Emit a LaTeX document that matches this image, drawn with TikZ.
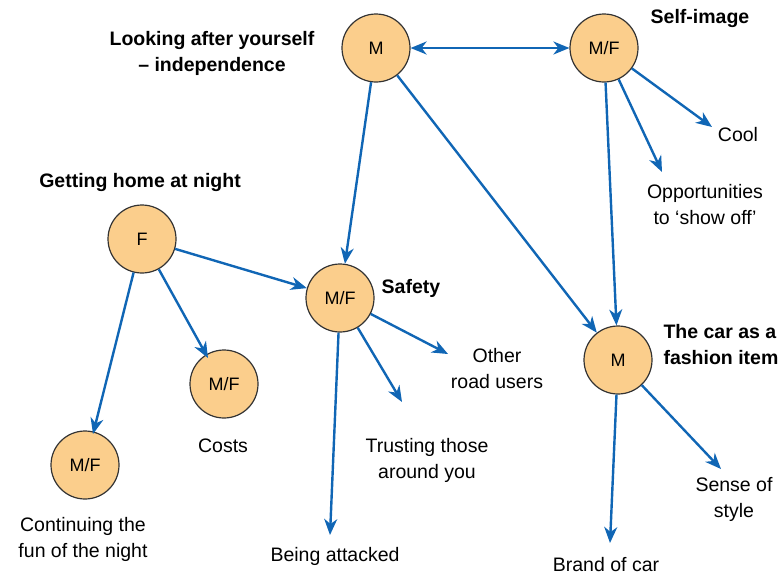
\documentclass[tikz,border=0pt]{standalone}
\usepackage{fontspec}
\setmainfont{Liberation Sans}
\usetikzlibrary{arrows.meta}
\definecolor{nodefill}{HTML}{FBCE8C}
\definecolor{linkblue}{HTML}{1066B5}

\begin{document}
\begin{tikzpicture}[x=1pt, y=-1pt, >={Stealth[length=16pt, width=13pt, inset=5pt]},
  every node/.style={font=\fontsize{19.5}{26}\selectfont},
  person/.style={circle, draw=black!80, line width=1.2pt, fill=nodefill, minimum size=68pt, inner sep=0pt, font=\fontsize{18}{22}\selectfont},
  topic/.style={font=\fontsize{19.5}{26}\selectfont\bfseries, align=center},
  item/.style={align=center},
  link/.style={->, draw=linkblue, line width=2.4pt}]
  \useasboundingbox (0,0) rectangle (783,576);
  \node[person] (lookM) at (376,48) {M};
  \node[person] (selfMF) at (604,48) {M/F};
  \node[person] (homeF) at (142,239) {F};
  \node[person] (safeMF) at (340,298) {M/F};
  \node[person] (fashM) at (618,360) {M};
  \node[person] (costMF) at (224,384) {M/F};
  \node[person] (funMF) at (85,465) {M/F};
  \node[topic] (lookT) at (212,53) {Looking after yourself\\– independence};
  \node[topic] (selfT) at (700,18) {Self-image};
  \node[topic] (homeT) at (140,182) {Getting home at night};
  \node[topic] (safeT) at (411,288) {Safety};
  \node[topic, align=left, anchor=west] (fashT) at (660,345) {The car as a\\fashion item};
  \node[item] (cool) at (738,135) {Cool};
  \node[item] (show) at (705,205) {Opportunities\\to ‘show off’};
  \node[item] (road) at (497,369) {Other\\road users};
  \node[item] (trust) at (427,460) {Trusting those\\around you};
  \node[item] (attack) at (335,556) {Being attacked};
  \node[item] (brand) at (606,565) {Brand of car};
  \node[item] (style) at (734,499) {Sense of\\style};
  \node[item] (costs) at (223,446) {Costs};
  \node[item] (fun) at (83,539) {Continuing the\\fun of the night};
  \coordinate (toCool) at (712,127);
  \coordinate (toShow) at (662,172);
  \coordinate (toRoad) at (448,354);
  \coordinate (toTrust) at (402,402);
  \coordinate (toAttack) at (330,535);
  \coordinate (toBrand) at (610,543);
  \coordinate (toStyle) at (721,469);
  \coordinate (toCosts) at (208,358);
  \coordinate (toFun) at (93,434);
  \draw[link, <->] (lookM) -- (selfMF);
  \draw[link] (lookM) -- (safeMF);
  \draw[link] (lookM) -- (fashM);
  \draw[link] (selfMF) -- (fashM);
  \draw[link] (selfMF) -- (toCool);
  \draw[link] (selfMF) -- (toShow);
  \draw[link] (homeF) -- (safeMF);
  \draw[link] (homeF) -- (toCosts);
  \draw[link] (homeF) -- (toFun);
  \draw[link] (safeMF) -- (toRoad);
  \draw[link] (safeMF) -- (toTrust);
  \draw[link] (safeMF) -- (toAttack);
  \draw[link] (fashM) -- (toBrand);
  \draw[link] (fashM) -- (toStyle);
\end{tikzpicture}
\end{document}
